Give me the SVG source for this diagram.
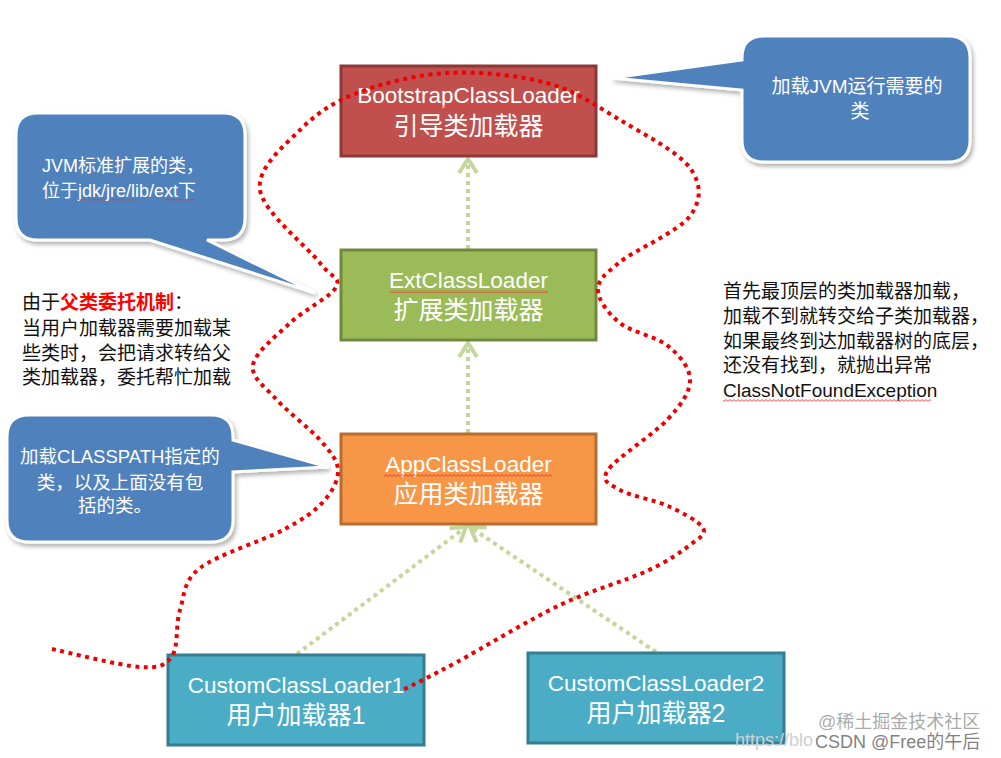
<svg xmlns="http://www.w3.org/2000/svg" width="1001" height="758" viewBox="0 0 1001 758">
<style>
  .box { stroke-width: 3; }
  .lat { font-family: "Liberation Sans", "Noto Sans CJK SC", sans-serif; font-size: 22.5px; fill: #ffffff; text-anchor: middle; }
  .cjk { font-family: "Liberation Sans", "Noto Sans CJK SC", sans-serif; font-size: 25px; fill: #ffffff; text-anchor: middle; }
  .call { fill: #4f81bd; stroke: #ffffff; stroke-width: 3; filter: url(#sh); }
  .ct { font-family: "Liberation Sans", "Noto Sans CJK SC", sans-serif; fill: #ffffff; }
  .note { font-family: "Liberation Sans", "Noto Sans CJK SC", sans-serif; font-size: 19px; fill: #111111; }
  .green { fill: none; stroke: #c3d69b; stroke-width: 4; stroke-dasharray: 4 4; marker-end: url(#arr); }
  .red { fill: none; stroke: #ee0000; stroke-width: 4; stroke-dasharray: 4 4.5; }
  .sq { fill: url(#wave); }
  .wm { font-family: "Liberation Sans", "Noto Sans CJK SC", sans-serif; font-size: 18px; }
</style>
<defs>
  <filter id="sh" x="-10%" y="-10%" width="130%" height="130%">
    <feDropShadow dx="2" dy="3" stdDeviation="2" flood-color="#000000" flood-opacity="0.3"/>
  </filter>
  <marker id="arr" viewBox="-18 -12 22 24" refX="0" refY="0" markerWidth="22" markerHeight="24" markerUnits="userSpaceOnUse" orient="auto">
    <path d="M-14,-9 L0,0 L-14,9" fill="none" stroke="#c3d69b" stroke-width="4" stroke-dasharray="none"/>
  </marker>
  <pattern id="wave" x="0" y="0" width="4" height="3" patternUnits="userSpaceOnUse">
    <path d="M0,2.4 L2,0.6 L4,2.4" fill="none" stroke="#ee3333" stroke-width="0.9"/>
  </pattern>
</defs>
<rect width="1001" height="758" fill="#ffffff"/>

<g id="callout-bootstrap">
  <path class="call" d="M764,36 H948 Q970,36 970,58 V140 Q970,162 948,162 H764 Q742,162 742,140 V90 L612,78 L742,60 V58 Q742,36 764,36 Z"/>
  <text class="ct" font-size="19" text-anchor="middle" x="857" y="93">加载JVM运行需要的</text>
  <text class="ct" font-size="19" text-anchor="middle" x="860" y="118">类</text>
</g>

<g id="callout-ext">
  <path class="call" d="M38,113 H223 Q245,113 245,135 V218 Q245,240 223,240 H207 L315,293 L150,240 H38 Q16,240 16,218 V135 Q16,113 38,113 Z"/>
  <text class="ct" font-size="18" x="42" y="172">JVM标准扩展的类，</text>
  <text class="ct" font-size="18" x="42" y="197">位于jdk/jre/lib/ext下</text>
  <rect class="sq" x="78" y="199" width="28" height="3"/>
  <rect class="sq" x="112" y="199" width="26" height="3"/>
  <rect class="sq" x="164" y="199" width="30" height="3"/>
</g>

<g id="callout-app">
  <path class="call" d="M29,415 H211 Q233,415 233,437 V440 L328,467 L233,472 V520 Q233,542 211,542 H29 Q7,542 7,520 V437 Q7,415 29,415 Z"/>
  <text class="ct" font-size="18.5" text-anchor="middle" x="120" y="463">加载CLASSPATH指定的</text>
  <text class="ct" font-size="18.5" text-anchor="middle" x="120" y="489">类，以及上面没有包</text>
  <text class="ct" font-size="18.5" text-anchor="middle" x="115" y="512">括的类。</text>
</g>

<g id="note-left">
  <text class="note" font-size="19.5" x="22" y="309">由于<tspan fill="#ff0000" font-weight="bold">父类委托机制</tspan>：</text>
  <text class="note" font-size="19.5" x="22" y="335">当用户加载器需要加载某</text>
  <text class="note" font-size="19.5" x="22" y="360">些类时，会把请求转给父</text>
  <text class="note" font-size="19.5" x="22" y="384">类加载器，委托帮忙加载</text>
</g>

<g id="note-right">
  <text class="note" x="723" y="298">首先最顶层的类加载器加载，</text>
  <text class="note" x="723" y="323">加载不到就转交给子类加载器，</text>
  <text class="note" x="723" y="348">如果最终到达加载器树的底层，</text>
  <text class="note" x="723" y="372">还没有找到，就抛出异常</text>
  <text class="note" x="723" y="397">ClassNotFoundException</text>
  <rect class="sq" x="723" y="399" width="208" height="3"/>
</g>

<g id="connectors">
  <line class="green" x1="468" y1="249" x2="468" y2="159"/>
  <line class="green" x1="468" y1="433" x2="468" y2="343"/>
  <line class="green" x1="297" y1="654" x2="466" y2="527"/>
  <line class="green" x1="656" y1="652" x2="470" y2="527"/>
</g>

<g id="node-bootstrap">
  <rect class="box" x="341" y="66" width="255" height="90" fill="#c0504d" stroke="#8c3836"/>
  <text class="lat" x="468.5" y="103">BootstrapClassLoader</text>
  <rect class="sq" x="355" y="105" width="228" height="3"/>
  <text class="cjk" x="468.5" y="135">引导类加载器</text>
</g>

<g id="node-ext">
  <rect class="box" x="341" y="250" width="255" height="90" fill="#9bbb59" stroke="#71893f"/>
  <text class="lat" x="468.5" y="288">ExtClassLoader</text>
  <rect class="sq" x="390" y="290" width="158" height="3"/>
  <text class="cjk" x="468.5" y="319">扩展类加载器</text>
</g>

<g id="node-app">
  <rect class="box" x="341" y="434" width="255" height="90" fill="#f79646" stroke="#b66d31"/>
  <text class="lat" x="468.5" y="472">AppClassLoader</text>
  <rect class="sq" x="384" y="474" width="168" height="3"/>
  <text class="cjk" x="468.5" y="503">应用类加载器</text>
</g>

<g id="node-custom1">
  <rect class="box" x="168" y="655" width="256" height="90" fill="#4bacc6" stroke="#357d91"/>
  <text class="lat" x="296" y="693">CustomClassLoader1</text>
  <text class="cjk" x="296" y="724">用户加载器1</text>
</g>

<g id="node-custom2">
  <rect class="box" x="528" y="653" width="256" height="90" fill="#4bacc6" stroke="#357d91"/>
  <text class="lat" x="656" y="691">CustomClassLoader2</text>
  <text class="cjk" x="656" y="722">用户加载器2</text>
</g>

<g id="delegation-curve">
  <path class="red" d="M52,649 C66.7,652 120,665.8 140,667 C160,668.2 165.3,665.5 172,656 C178.7,646.5 175.3,624.7 180,610 C184.7,595.3 182.8,581.3 200,568 C217.2,554.7 262.5,541 283,530 C303.5,519 313.8,512 323,502 C332.2,492 338.5,480.3 338,470 C337.5,459.7 330.2,451.7 320,440 C309.8,428.3 288.2,412.5 277,400 C265.8,387.5 250.8,377.8 253,365 C255.2,352.2 276.2,336 290,323 C303.8,310 331,297 336,287 C341,277 332.7,279.2 320,263 C307.3,246.8 263.3,212.2 260,190 C256.7,167.8 283.8,146.2 300,130 C316.2,113.8 332.5,102.5 357,93 C381.5,83.5 415.3,74.7 447,73 C478.7,71.3 518.2,75.2 547,83 C575.8,90.8 596.2,105.8 620,120 C643.8,134.2 678.3,152 690,168 C701.7,184 701.7,200.3 690,216 C678.3,231.7 635.3,249.7 620,262 C604.7,274.3 598,279.8 598,290 C598,300.2 608.3,313.7 620,323 C631.7,332.3 656.3,336.5 668,346 C679.7,355.5 690,367.8 690,380 C690,392.2 681.7,404 668,419 C654.3,434 616,458.2 608,470 C600,481.8 610,484 620,490 C630,496 654.2,499.7 668,506 C681.8,512.3 699.3,521.5 703,528 C706.7,534.5 699.3,537.8 690,545 C680.7,552.2 668.7,561 647,571 C625.3,581 591.7,589.8 560,605 C528.3,620.2 483.2,647.8 457,662 C430.8,676.2 412,685.3 403,690"/>
</g>

<g id="watermark">
  <text class="wm" x="735" y="746" font-size="15" fill="#d0d0d0">https://blo</text>
  <text class="wm" x="818" y="728" fill="#9a9a9a" fill-opacity="0.85">@稀土掘金技术社区</text>
  <text class="wm" x="815" y="748" fill="#6a6a6a" fill-opacity="0.85">CSDN @Free的午后</text>
</g>
</svg>
